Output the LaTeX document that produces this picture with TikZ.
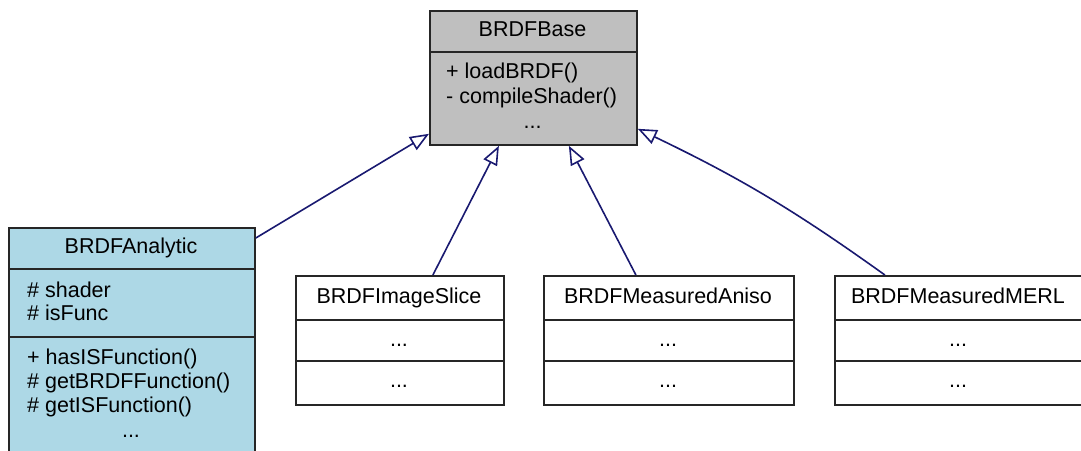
\documentclass[tikz,border=0pt]{standalone}
\usepackage{fontspec}
\setmainfont{Liberation Sans}
\usetikzlibrary{arrows.meta,calc}
\definecolor{edgeblue}{HTML}{191970}
\definecolor{basegray}{HTML}{BFBFBF}
\definecolor{analyticblue}{HTML}{ADD8E6}
\tikzset{
  classbox/.style={draw=black!85, line width=1.8pt, inner sep=0pt, anchor=north west, fill=white},
  divider/.style={draw=black!85, line width=1.8pt},
  classname/.style={anchor=base, inner sep=0pt, font=\fontsize{21.5}{24.5}\selectfont},
  member/.style={anchor=base west, inner sep=0pt, font=\fontsize{21.5}{24.5}\selectfont},
  elided/.style={anchor=base, inner sep=0pt, font=\fontsize{21.5}{24.5}\selectfont},
  inherit/.style={draw=edgeblue, line width=1.6pt,
    -{Triangle[open, length=19pt, width=15pt, fill=white]}},
}
\begin{document}
\begin{tikzpicture}[x=1pt, y=-1pt]
  \useasboundingbox (0,0) rectangle (1081,450);
  \clip (0,0) rectangle (1081,450);

  % base class
  \node[classbox, fill=basegray, minimum width=207pt, minimum height=134pt] (base) at (429,10) {};
  \draw[divider] (base.west |- 0,52) -- (base.east |- 0,52);
  \node[classname] (basetitle) at (532.5,36) {BRDFBase};
  \node[member] (baseload) at (446,78.5) {+ loadBRDF()};
  \node[member] (basecompile) at (446,103) {- compileShader()};
  \node[elided] (basemore) at (532.5,128) {...};

  % analytic model
  \node[classbox, fill=analyticblue, minimum width=246pt, minimum height=226pt] (analytic) at (8,227) {};
  \draw[divider] (analytic.west |- 0,269) -- (analytic.east |- 0,269);
  \draw[divider] (analytic.west |- 0,337) -- (analytic.east |- 0,337);
  \node[classname] (analytictitle) at (131,253) {BRDFAnalytic};
  \node[member] (ashader) at (27,297) {\# shader};
  \node[member] (aisfunc) at (27,320) {\# isFunc};
  \node[member] (ahasis) at (27,364) {+ hasISFunction()};
  \node[member] (agetbrdf) at (27,388) {\# getBRDFFunction()};
  \node[member] (agetis) at (27,412) {\# getISFunction()};
  \node[elided] (amore) at (131,437) {...};

  % image slice
  \node[classbox, minimum width=208pt, minimum height=129pt] (slice) at (295,275) {};
  \draw[divider] (slice.west |- 0,320) -- (slice.east |- 0,320);
  \draw[divider] (slice.west |- 0,361) -- (slice.east |- 0,361);
  \node[classname] (slicetitle) at (399,303) {BRDFImageSlice};
  \node[elided] (sliceattr) at (399,346) {...};
  \node[elided] (sliceops) at (399,387) {...};

  % measured anisotropic
  \node[classbox, minimum width=250pt, minimum height=129pt] (aniso) at (543,275) {};
  \draw[divider] (aniso.west |- 0,320) -- (aniso.east |- 0,320);
  \draw[divider] (aniso.west |- 0,361) -- (aniso.east |- 0,361);
  \node[classname] (anisotitle) at (668,303) {BRDFMeasuredAniso};
  \node[elided] (anisoattr) at (668,346) {...};
  \node[elided] (anisoops) at (668,387) {...};

  % measured MERL
  \node[classbox, minimum width=250pt, minimum height=129pt] (merl) at (834,275) {};
  \draw[divider] (merl.west |- 0,320) -- (merl.east |- 0,320);
  \draw[divider] (merl.west |- 0,361) -- (merl.east |- 0,361);
  \node[classname] (merltitle) at (958,303) {BRDFMeasuredMERL};
  \node[elided] (merlattr) at (958,346) {...};
  \node[elided] (merlops) at (958,387) {...};

  % inheritance edges
  \draw[inherit] ([yshift=-11pt]analytic.north east) -- ([yshift=12pt]base.south west);
  \draw[inherit] ([xshift=33pt]slice.north) -- ([xshift=-34.5pt]base.south);
  \draw[inherit] ([xshift=-33pt]aniso.north) -- ([xshift=35.5pt]base.south);
  \draw[inherit] ([xshift=-75pt]merl.north) to[bend right=5] ([yshift=17pt]base.south east);
\end{tikzpicture}
\end{document}
